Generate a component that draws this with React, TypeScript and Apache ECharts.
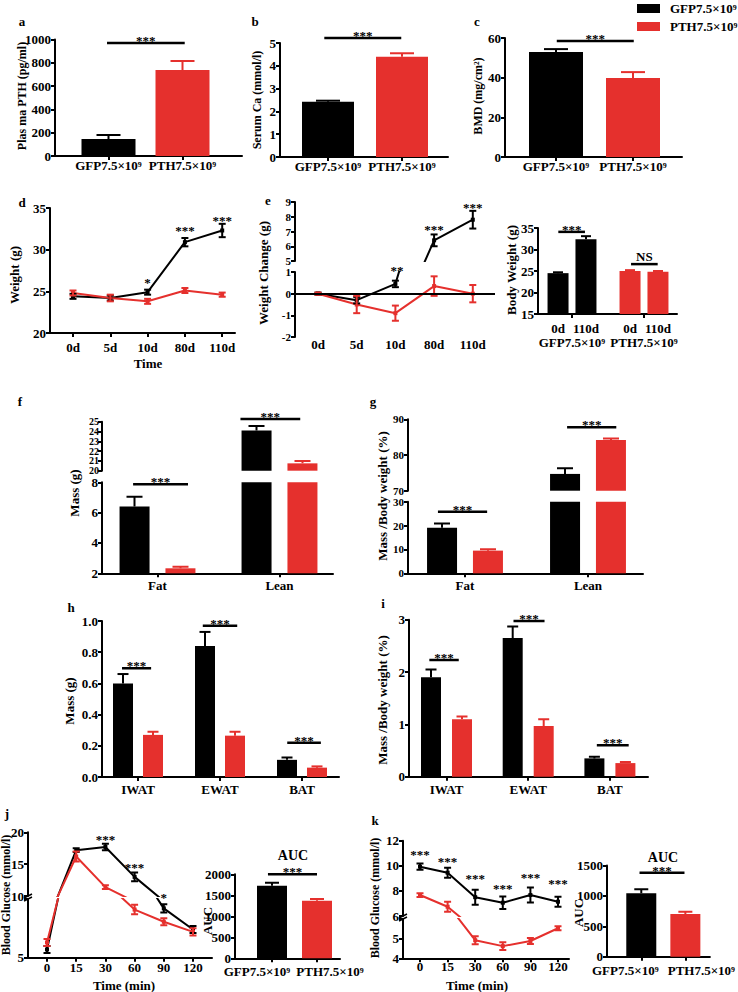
import React, { useEffect, useRef } from 'react';
import * as echarts from 'echarts';

const GFP = 'GFP7.5×10⁹';
const PTH = 'PTH7.5×10⁹';
const groupNames = [GFP, PTH];
const BLACK = '#000000';
const RED = '#e5302d';
const groupColors = [BLACK, RED];
const FONT = 'Liberation Serif';

// a  Plasma PTH (pg/ml)
const plasmaPth = [146, 738];
const plasmaPthErr = [34, 77];
// b  Serum Ca (mmol/l)
const serumCa = [2.42, 4.4];
const serumCaErr = [0.05, 0.15];
// c  BMD (mg/cm2)
const bmd = [52.9, 39.8];
const bmdErr = [1.5, 3.0];
// d  Weight (g)
const dayLabels = ['0d', '5d', '10d', '80d', '110d'];
const weightGfp = [24.4, 24.2, 24.9, 30.9, 32.3];
const weightGfpErr = [0.3, 0.3, 0.3, 0.5, 0.8];
const weightPth = [24.8, 24.2, 23.8, 25.1, 24.6];
const weightPthErr = [0.3, 0.4, 0.3, 0.3, 0.25];
// e  Weight change (g)
const changeGfp = [0, -0.3, 0.45, 6.4, 7.8];
const changeGfpErr = [0.05, 0.15, 0.15, 0.4, 0.6];
const changePth = [0, -0.5, -0.9, 0.35, 0];
const changePthErr = [0.05, 0.4, 0.35, 0.45, 0.4];
// body weight
const bwTimes = ['0d', '110d'];
const bwDay0 = [24.5, 25.0];
const bwDay0Err = [0.2, 0.2];
const bwDay110 = [32.4, 24.8];
const bwDay110Err = [0.7, 0.2];
// f  Mass (g)
const compLabels = ['Fat', 'Lean'];
const massGfp = [6.4, 24.1];
const massGfpErr = [0.65, 0.45];
const massPth = [2.33, 20.75];
const massPthErr = [0.1, 0.25];
// g  Mass / body weight (%)
const pctGfp = [19.1, 74.7];
const pctGfpErr = [1.8, 1.6];
const pctPth = [9.5, 84.2];
const pctPthErr = [0.6, 0.4];
// h  tissue mass (g)
const tissueLabels = ['IWAT', 'EWAT', 'BAT'];
const tMassGfp = [0.6, 0.84, 0.11];
const tMassGfpErr = [0.06, 0.09, 0.015];
const tMassPth = [0.27, 0.265, 0.06];
const tMassPthErr = [0.02, 0.025, 0.008];
// i  tissue mass / body weight (%)
const tPctGfp = [1.9, 2.65, 0.35];
const tPctGfpErr = [0.15, 0.22, 0.03];
const tPctPth = [1.1, 0.97, 0.26];
const tPctPthErr = [0.05, 0.13, 0.02];
// j  GTT
const minuteLabels = ['0', '15', '30', '60', '90', '120'];
const gttGfp = [5.7, 17.2, 17.7, 13.0, 9.2, 7.4];
const gttGfpErr = [0.3, 0.3, 0.5, 0.7, 0.35, 0.3];
const gttPth = [6.3, 16.2, 11.4, 9.1, 8.06, 7.2];
const gttPthErr = [0.3, 0.8, 0.3, 0.4, 0.3, 0.3];
const gttAuc = [1730, 1370];
const gttAucErr = [70, 40];
// k  ITT
const ittGfp = [9.93, 9.45, 7.5, 7.06, 7.67, 7.14];
const ittGfpErr = [0.25, 0.4, 0.6, 0.5, 0.6, 0.4];
const ittPth = [7.67, 6.74, 4.92, 4.62, 4.88, 5.53];
const ittPthErr = [0.15, 0.4, 0.2, 0.2, 0.15, 0.1];
const ittAuc = [1043, 702];
const ittAucErr = [65, 38];

// significance bars: [panel, x0, x1, y, text]
const sigBars: [string, number, number, number, string][] = [
  ['a', -0.02, 1.03, 970, '***'],
  ['b', -0.05, 0.99, 5.22, '***'],
  ['c', 0.01, 1.01, 58.5, '***'],
  ['bw', -0.19, 0.18, 34.1, '***'],
  ['bw', 0.82, 1.19, 26.6, 'NS'],
  ['fL', -0.2, 0.25, 7.87, '***'],
  ['fU', 0.68, 1.17, 25.28, '***'],
  ['gL', -0.22, 0.18, 25.8, '***'],
  ['gU', 0.83, 1.23, 87.8, '***'],
  ['h', -0.195, 0.16, 0.697, '***'],
  ['h', 0.79, 1.21, 0.97, '***'],
  ['h', 1.82, 2.23, 0.22, '***'],
  ['i', -0.21, 0.15, 2.23, '***'],
  ['i', 0.82, 1.2, 2.975, '***'],
  ['i', 1.84, 2.23, 0.6, '***'],
  ['jA', -0.09, 1.0, 2000, '***'],
  ['kA', -0.04, 0.98, 1382, '***'],
];
// star marks over time points: [panel, x, y, text]
const starMarks: [string, number, number, string][] = [
  ['d', 2, 26.4, '*'], ['d', 3, 32.7, '***'], ['d', 4, 33.9, '***'],
  ['eL', 2.04, 1.2, '**'], ['eU', 3, 7.33, '***'], ['eU', 4, 8.84, '***'],
  ['jU', 2, 19.3, '***'], ['jU', 3, 15.0, '***'], ['jU', 4, 10.2, '*'],
  ['kU', 0, 11.12, '***'], ['kU', 1, 10.62, '***'], ['kU', 2, 9.21, '***'],
  ['kU', 3, 8.47, '***'], ['kU', 4, 9.27, '***'], ['kU', 5, 8.81, '***'],
];

const GFONT = (s = 13) => `bold ${s}px "${FONT}"`;
const num = (v: number) => String(+v.toFixed(6));

function buildOption() {
  const grids: any[] = [];
  const xAxes: any[] = [];
  const yAxes: any[] = [];
  const series: any[] = [];
  const G: Record<string, number> = {};
  const font = (size = 13) => ({ fontFamily: FONT, fontWeight: 'bold', fontSize: size, color: '#000' });
  const axLine = { color: '#000', width: 2 };

  const panel = (key: string, l: number, t: number, r: number, b: number) => {
    G[key] = grids.length;
    grids.push({ left: l, top: t, width: r - l, height: b - t });
    return G[key];
  };
  const xAx = (gi: number, L: number, R: number, c0: number, step: number, labels: string[], o: any = {}) => {
    const vals = labels.map((_, i) => i);
    xAxes.push({
      type: 'value', gridIndex: gi, min: (L - c0) / step, max: (R - c0) / step,
      splitLine: { show: false },
      axisLine: { show: !o.hidden && o.line !== false, onZero: false, lineStyle: axLine },
      axisTick: { show: !o.hidden && o.ticks !== false, customValues: vals, length: 4, lineStyle: axLine },
      axisLabel: {
        show: !o.hidden, customValues: vals, margin: o.margin ?? 6, showMinLabel: true, showMaxLabel: true, hideOverlap: false,
        formatter: o.formatter ?? ((v: number) => labels[Math.round(v)] ?? ''),
        ...font(o.size ?? 13), rich: o.rich,
      },
    });
  };
  const yAx = (gi: number, min: number, max: number, interval: number, o: any = {}) => {
    yAxes.push({
      type: 'value', gridIndex: gi, min, max, interval,
      splitLine: { show: false },
      axisLine: { show: true, onZero: false, lineStyle: axLine },
      axisTick: { show: true, length: 4, lineStyle: axLine },
      axisLabel: {
        margin: o.margin ?? 4, showMinLabel: true, showMaxLabel: true, hideOverlap: false,
        formatter: o.formatter ?? num, ...font(o.size ?? 13),
      },
    });
  };
  const barSingle = (gi: number, name: string, vals: number[], w: number) => {
    series.push({
      type: 'bar', name, xAxisIndex: gi, yAxisIndex: gi, barWidth: w, clip: true,
      data: vals.map((v, i) => ({ value: [i, v], itemStyle: { color: groupColors[i] } })),
    });
  };
  const barGroup = (gi: number, name: string, vals: number[], color: string, w: number, gap: string) => {
    series.push({
      type: 'bar', name, xAxisIndex: gi, yAxisIndex: gi, barWidth: w, barGap: gap, clip: true,
      itemStyle: { color }, color, data: vals.map((v, i) => [i, v]),
    });
  };
  const errBars = (gi: number, vals: number[], errs: number[], colors: string[], offset: number, both: boolean, cap: number) => {
    series.push({
      type: 'custom', xAxisIndex: gi, yAxisIndex: gi, clip: true, silent: true, z: 4,
      data: vals.map((v, i) => [i, both ? v - errs[i] : v, v + errs[i]]),
      encode: { x: 0, y: [1, 2] },
      renderItem: (params: any, api: any) => {
        const x = api.value(0);
        const lo = api.coord([x, api.value(1)]);
        const hi = api.coord([x, api.value(2)]);
        const cx = lo[0] + offset;
        const st = { stroke: colors[params.dataIndex % colors.length], lineWidth: 2 };
        const ch: any[] = [
          { type: 'line', shape: { x1: cx, y1: lo[1], x2: cx, y2: hi[1] }, style: st },
          { type: 'line', shape: { x1: cx - cap / 2, y1: hi[1], x2: cx + cap / 2, y2: hi[1] }, style: st },
        ];
        if (both) ch.push({ type: 'line', shape: { x1: cx - cap / 2, y1: lo[1], x2: cx + cap / 2, y2: lo[1] }, style: st });
        return { type: 'group', children: ch };
      },
    });
  };
  const line = (gi: number, name: string, vals: number[], color: string, extra: any = {}) => {
    series.push({
      type: 'line', name, xAxisIndex: gi, yAxisIndex: gi, color, clip: true, z: 3,
      data: vals.map((v, i) => [i, v]), lineStyle: { color, width: 2 }, itemStyle: { color },
      symbol: 'rect', symbolSize: 4, ...extra,
    });
  };
  // AUC panels: group labels shifted outward as in the reference
  const aucLabels = (shiftL: number, shiftR: number) => ({
    formatter: (v: number) => (Math.round(v) === 0 ? `{l|${GFP}}` : `{r|${PTH}}`),
    rich: {
      l: { ...font(13), padding: [0, shiftL * 2, 0, 0] },
      r: { ...font(13), padding: [0, 0, 0, shiftR * 2] },
    },
  });

  let gi: number;
  // a
  gi = panel('a', 55, 39.5, 242, 156);
  xAx(gi, 55, 242, 108.5, 74, groupNames, { margin: 3 });
  yAx(gi, 0, 1000, 200);
  barSingle(gi, 'Plasma PTH', plasmaPth, 54);
  errBars(gi, plasmaPth, plasmaPthErr, groupColors, 0, false, 24);
  // b
  gi = panel('b', 280, 43, 448, 157);
  xAx(gi, 280, 448, 328, 74, groupNames, { margin: 3 });
  yAx(gi, 0, 5, 1);
  barSingle(gi, 'Serum Ca', serumCa, 52);
  errBars(gi, serumCa, serumCaErr, groupColors, 0, false, 24);
  // c
  gi = panel('c', 505, 38, 682, 157);
  xAx(gi, 505, 682, 556, 77, groupNames, { margin: 3 });
  yAx(gi, 0, 60, 20);
  barSingle(gi, 'BMD', bmd, 54);
  errBars(gi, bmd, bmdErr, groupColors, 0, false, 24);
  // d
  gi = panel('d', 50, 208, 235, 333);
  xAx(gi, 50, 235, 73, 37.3, dayLabels, { margin: 8 });
  yAx(gi, 20, 35, 5);
  line(gi, GFP, weightGfp, BLACK);
  line(gi, PTH, weightPth, RED);
  errBars(gi, weightGfp, weightGfpErr, [BLACK], 0, true, 7);
  errBars(gi, weightPth, weightPthErr, [RED], 0, true, 7);
  // e upper
  gi = panel('eU', 295, 202, 495, 261);
  xAx(gi, 295, 495, 318, 38.7, dayLabels, { hidden: true });
  yAx(gi, 5, 9, 1, { size: 11 });
  line(gi, GFP, changeGfp, BLACK);
  line(gi, PTH, changePth, RED);
  errBars(gi, changeGfp, changeGfpErr, [BLACK], 0, true, 7);
  errBars(gi, changePth, changePthErr, [RED], 0, true, 7);
  // e lower
  gi = panel('eL', 295, 272, 495, 337);
  xAx(gi, 295, 495, 318, 38.7, dayLabels, { line: false, ticks: false, margin: 1 });
  yAx(gi, -2, 1, 1, { size: 11 });
  line(gi, GFP, changeGfp, BLACK, {
    markLine: { silent: true, symbol: 'none', label: { show: false }, lineStyle: { color: '#000', width: 2, type: 'solid' }, data: [{ yAxis: 0 }] },
  });
  line(gi, PTH, changePth, RED);
  errBars(gi, changeGfp, changeGfpErr, [BLACK], 0, true, 7);
  errBars(gi, changePth, changePthErr, [RED], 0, true, 7);
  // body weight
  gi = panel('bw', 538, 228, 677, 314);
  const tStyle = { ...font(13), width: 28, align: 'center' };
  xAx(gi, 538, 677, 572, 72, groupNames, {
    margin: 8,
    formatter: (v: number) => `{t|${bwTimes[0]}}{t|${bwTimes[1]}}\n{g|${groupNames[Math.round(v)] ?? ''}}`,
    rich: { t: tStyle, g: { ...font(13), lineHeight: 15 } },
  });
  yAx(gi, 15, 35, 5);
  series.push({
    type: 'bar', name: bwTimes[0], xAxisIndex: gi, yAxisIndex: gi, barWidth: 21, barGap: '33%', clip: true,
    data: bwDay0.map((v, i) => ({ value: [i, v], itemStyle: { color: groupColors[i] } })),
  });
  series.push({
    type: 'bar', name: bwTimes[1], xAxisIndex: gi, yAxisIndex: gi, barWidth: 21, barGap: '33%', clip: true,
    data: bwDay110.map((v, i) => ({ value: [i, v], itemStyle: { color: groupColors[i] } })),
  });
  errBars(gi, bwDay0, bwDay0Err, groupColors, -14, false, 10);
  errBars(gi, bwDay110, bwDay110Err, groupColors, 14, false, 10);
  // f upper / lower
  for (const [key, t, b, mn, mx, iv, sz] of [['fU', 421.7, 470.7, 20, 25, 1, 10], ['fL', 482.3, 573.3, 2, 8, 2, 13]] as any[]) {
    gi = panel(key, 102, t, 333, b);
    xAx(gi, 102, 333, 157.5, 122, compLabels, key === 'fU' ? { hidden: true } : { margin: 6 });
    yAx(gi, mn, mx, iv, { size: sz, margin: key === 'fU' ? 3 : 4 });
    barGroup(gi, GFP, massGfp, BLACK, 30, '53%');
    barGroup(gi, PTH, massPth, RED, 30, '53%');
    errBars(gi, massGfp, massGfpErr, [BLACK], -23, false, 16);
    errBars(gi, massPth, massPthErr, [RED], 23, false, 16);
  }
  // g upper / lower
  for (const [key, t, b, mn, mx, iv] of [['gU', 419.3, 490.7, 70, 90, 10], ['gL', 501.7, 573.3, 0, 30, 10]] as any[]) {
    gi = panel(key, 408, t, 643, b);
    xAx(gi, 408, 643, 465, 123, compLabels, key === 'gU' ? { hidden: true } : { margin: 6 });
    yAx(gi, mn, mx, iv, { size: 11 });
    barGroup(gi, GFP, pctGfp, BLACK, 30, '53%');
    barGroup(gi, PTH, pctPth, RED, 30, '53%');
    errBars(gi, pctGfp, pctGfpErr, [BLACK], -23, false, 16);
    errBars(gi, pctPth, pctPthErr, [RED], 23, false, 16);
  }
  // h
  gi = panel('h', 102, 621, 339, 777);
  xAx(gi, 102, 339, 138, 82, tissueLabels, { margin: 6 });
  yAx(gi, 0, 1, 0.2, { formatter: (v: number) => v.toFixed(1) });
  barGroup(gi, GFP, tMassGfp, BLACK, 20, '50%');
  barGroup(gi, PTH, tMassPth, RED, 20, '50%');
  errBars(gi, tMassGfp, tMassGfpErr, [BLACK], -15, false, 11);
  errBars(gi, tMassPth, tMassPthErr, [RED], 15, false, 11);
  // i
  gi = panel('i', 409, 619.7, 648, 776.7);
  xAx(gi, 409, 648, 446.5, 81.7, tissueLabels, { margin: 6 });
  yAx(gi, 0, 3, 1);
  barGroup(gi, GFP, tPctGfp, BLACK, 20, '55%');
  barGroup(gi, PTH, tPctPth, RED, 20, '55%');
  errBars(gi, tPctGfp, tPctGfpErr, [BLACK], -15.5, false, 11);
  errBars(gi, tPctPth, tPctPthErr, [RED], 15.5, false, 11);
  // j upper / lower
  gi = panel('jU', 28, 832.3, 212, 896);
  xAx(gi, 28, 212, 47, 29.2, minuteLabels, { hidden: true });
  yAx(gi, 10, 20, 5);
  line(gi, GFP, gttGfp, BLACK); line(gi, PTH, gttPth, RED);
  errBars(gi, gttGfp, gttGfpErr, [BLACK], 0, true, 7);
  errBars(gi, gttPth, gttPthErr, [RED], 0, true, 7);
  gi = panel('jL', 28, 899, 212, 957.7);
  xAx(gi, 28, 212, 47, 29.2, minuteLabels, { margin: 3 });
  yAx(gi, 5, 10, 5, { formatter: (v: number) => (v === 10 ? '' : String(v)) });
  line(gi, GFP, gttGfp, BLACK); line(gi, PTH, gttPth, RED);
  errBars(gi, gttGfp, gttGfpErr, [BLACK], 0, true, 7);
  errBars(gi, gttPth, gttPthErr, [RED], 0, true, 7);
  // j AUC
  gi = panel('jA', 235, 874.3, 340, 958.3);
  xAx(gi, 235, 340, 272, 45, groupNames, { margin: 7, ...aucLabels(15, 13) });
  yAx(gi, 0, 2000, 500);
  barSingle(gi, 'GTT AUC', gttAuc, 30);
  errBars(gi, gttAuc, gttAucErr, groupColors, 0, false, 14);
  // k upper / lower
  gi = panel('kU', 403, 840.7, 569, 916);
  xAx(gi, 403, 569, 420, 27.6, minuteLabels, { hidden: true });
  yAx(gi, 6, 12, 2);
  line(gi, GFP, ittGfp, BLACK); line(gi, PTH, ittPth, RED);
  errBars(gi, ittGfp, ittGfpErr, [BLACK], 0, true, 7);
  errBars(gi, ittPth, ittPthErr, [RED], 0, true, 7);
  gi = panel('kL', 403, 919, 569, 958.3);
  xAx(gi, 403, 569, 420, 27.6, minuteLabels, { margin: 2 });
  yAx(gi, 4, 6, 1, { formatter: (v: number) => (v === 6 ? '' : String(v)) });
  line(gi, GFP, ittGfp, BLACK); line(gi, PTH, ittPth, RED);
  errBars(gi, ittGfp, ittGfpErr, [BLACK], 0, true, 7);
  errBars(gi, ittPth, ittPthErr, [RED], 0, true, 7);
  // k AUC
  gi = panel('kA', 607, 865.5, 712, 956.7);
  xAx(gi, 607, 712, 642, 45, groupNames, { margin: 7, ...aucLabels(16, 16) });
  yAx(gi, 0, 1500, 500);
  barSingle(gi, 'ITT AUC', ittAuc, 30);
  errBars(gi, ittAuc, ittAucErr, groupColors, 0, false, 14);

  const T = (text: string, x: number, y: number, size = 13, rot = 0) => ({
    type: 'text', x, y, rotation: rot, silent: true,
    style: { text, font: GFONT(size), fill: '#000', align: 'center', verticalAlign: 'middle' },
  });
  const R = Math.PI / 2;
  const brk = (x1: number, y1: number, x2: number, y2: number) => ({
    type: 'line', silent: true, shape: { x1, y1, x2, y2 }, style: { stroke: '#000', lineWidth: 1.5 },
  });
  const baseGraphic: any[] = [
    T('a', 22, 21), T('b', 255, 21), T('c', 477, 21), T('d', 22, 202), T('e', 268, 200),
    T('f', 20, 401), T('g', 373, 401), T('h', 71, 607), T('i', 383, 603), T('j', 7, 813), T('k', 375, 820),
    T('Plas ma PTH (pg/ml)', 22, 96, 12, R), T('Serum Ca (mmol/l)', 257, 100, 12, R), T('BMD (mg/cm²)', 478, 96, 12, R),
    T('Weight (g)', 14, 275, 13, R), T('Weight Change (g)', 263, 273, 13, R), T('Body Weight (g)', 511, 270, 13, R),
    T('Mass (g)', 74, 493, 13, R), T('Mass /Body weight (%)', 382, 496, 13, R),
    T('Mass (g)', 69, 701, 13, R), T('Mass /Body weight (%)', 382, 700, 13, R),
    T('Blood Glucose (mmol/l)', 6, 895, 12, R), T('Blood Glucose (mmol/l)', 375, 898, 12, R),
    T('AUC', 207, 921, 13, R), T('AUC', 578, 913, 13, R),
    T('Time', 148, 363), T('Time (min)', 124, 985), T('Time (min)', 477, 985),
    T('AUC', 293, 855, 14), T('AUC', 663, 857, 14),
    brk(24, 898, 32, 894), brk(24, 901, 32, 897),
    brk(399, 918, 407, 914), brk(399, 921, 407, 917),
  ];

  const option: any = {
    animation: false,
    backgroundColor: '#ffffff',
    legend: {
      left: 632, top: -3, orient: 'vertical', icon: 'rect', itemWidth: 23, itemHeight: 9, itemGap: 5,
      selectedMode: false, data: [GFP, PTH], textStyle: { ...font(13), padding: [0, 0, 0, 5] },
    },
    grid: grids, xAxis: xAxes, yAxis: yAxes, series,
  };
  return { option, G, baseGraphic };
}

function buildAnnotations(chart: any, G: Record<string, number>) {
  const out: any[] = [];
  for (const [k, x0, x1, y, t] of sigBars) {
    const p0 = chart.convertToPixel({ gridIndex: G[k] }, [x0, y]);
    const p1 = chart.convertToPixel({ gridIndex: G[k] }, [x1, y]);
    if (!p0 || !p1) continue;
    out.push({ type: 'line', silent: true, shape: { x1: p0[0], y1: p0[1], x2: p1[0], y2: p1[1] }, style: { stroke: '#000', lineWidth: 2.5 } });
    const star = t.includes('*');
    out.push({
      type: 'text', silent: true, x: (p0[0] + p1[0]) / 2, y: p0[1] + (star ? 4 : -1),
      style: { text: t, font: GFONT(13), fill: '#000', align: 'center', verticalAlign: 'bottom' },
    });
  }
  for (const [k, x, y, t] of starMarks) {
    const p = chart.convertToPixel({ gridIndex: G[k] }, [x, y]);
    if (!p) continue;
    out.push({
      type: 'text', silent: true, x: p[0], y: p[1] + 3,
      style: { text: t, font: GFONT(13), fill: '#000', align: 'center', verticalAlign: 'middle' },
    });
  }
  return out;
}

export default function App() {
  const ref = useRef<HTMLDivElement>(null);
  useEffect(() => {
    document.body.style.margin = '0';
    const chart = echarts.init(ref.current as HTMLDivElement, undefined, { renderer: 'svg', width: 738, height: 992 });
    const { option, G, baseGraphic } = buildOption();
    chart.setOption(option);
    const ann = buildAnnotations(chart, G);
    chart.setOption({ graphic: [...baseGraphic, ...ann] });
    return () => chart.dispose();
  }, []);
  return <div ref={ref} style={{ position: 'absolute', left: 0, top: 0, width: 738, height: 992 }} />;
}
